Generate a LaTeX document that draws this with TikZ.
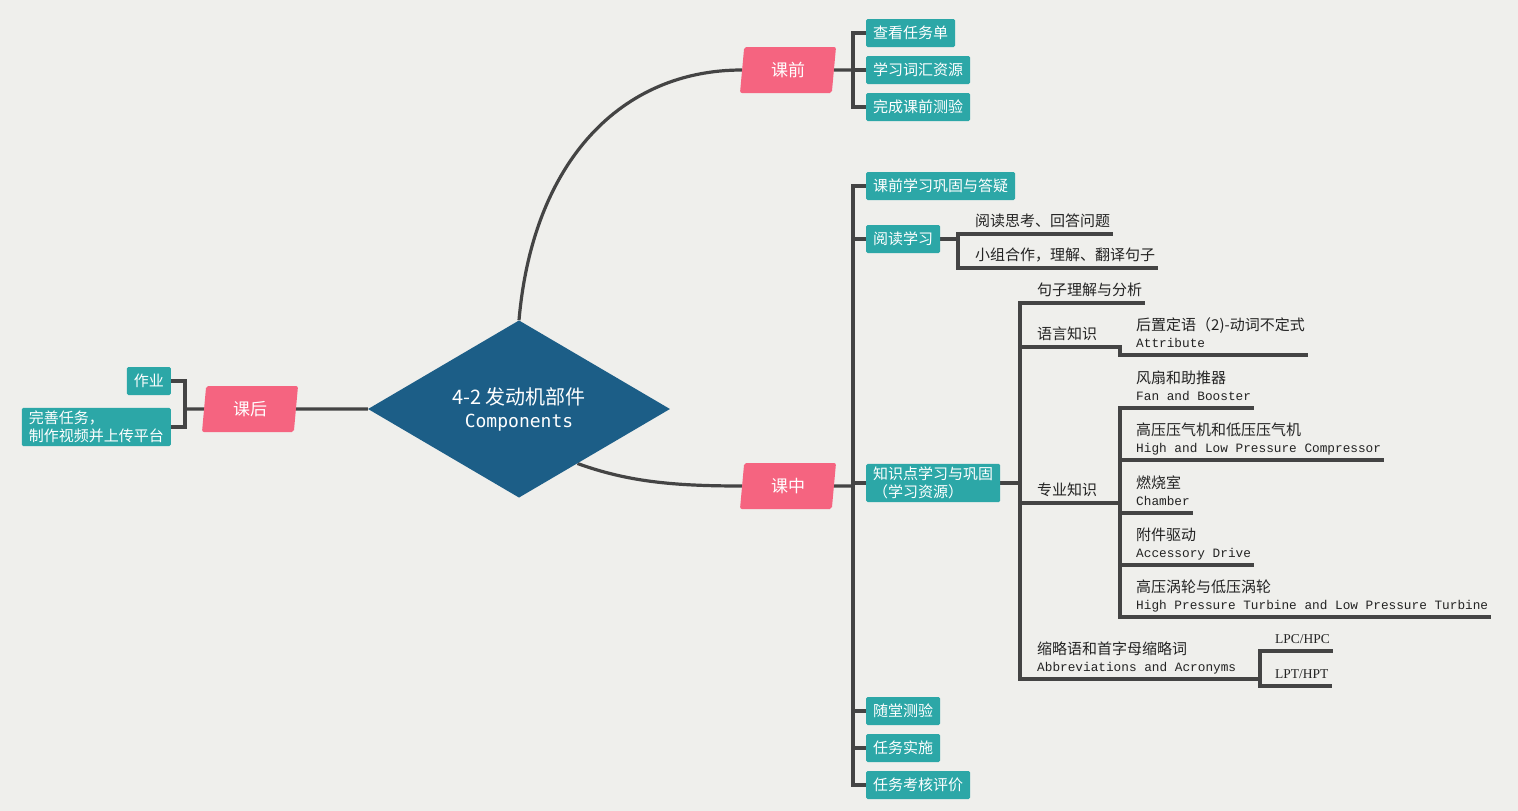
\documentclass[tikz,border=0pt]{standalone}
\usepackage{fontspec}
\setmainfont{Noto Sans CJK SC}
\newfontfamily\enfont{Liberation Mono}[Scale=0.85]
\newfontfamily\serfont{Liberation Serif}[Scale=0.9]
\newfontfamily\compfont{DejaVu Sans Mono}
\usepackage{tikz}
\usetikzlibrary{shapes.geometric}
\definecolor{bgcol}{RGB}{239,239,236}
\definecolor{pinkc}{RGB}{245,100,128}
\definecolor{tealc}{RGB}{44,167,167}
\definecolor{navyc}{RGB}{28,94,135}
\definecolor{linec}{RGB}{68,68,68}
\definecolor{inkc}{RGB}{35,35,35}
\pgfdeclarelayer{bg}
\pgfdeclarelayer{lines}
\pgfsetlayers{bg,lines,main}

\begin{document}
\begin{tikzpicture}[x=1pt, y=-1pt,
    link/.style={draw=linec, line width=3.2pt},
    rootbox/.style={diamond, fill=navyc, text=white, minimum width=302pt, minimum height=174pt,
      inner sep=0pt, align=center, font=\fontsize{20}{23}\selectfont},
    pinkbox/.style={trapezium, trapezium left angle=75, trapezium right angle=105,
      trapezium stretches body, fill=pinkc, text=white, minimum width=96pt, minimum height=46pt,
      inner sep=0pt, rounded corners=2pt, font=\fontsize{17}{20}\selectfont},
    tealbox/.style={rectangle, fill=tealc, text=white, rounded corners=1.5pt, inner xsep=7pt,
      minimum height=28pt, align=left, font=\fontsize{15}{17.5}\selectfont},
    leaf/.style={anchor=south west, inner xsep=3pt, inner ysep=4.5pt, text depth=3pt,
      text=inkc, align=left, font=\fontsize{15}{16.5}\selectfont}]
  \useasboundingbox (0,0) rectangle (1518,811);
  \begin{pgfonlayer}{bg}
    \fill[bgcol] (0,0) rectangle (1518,811);
  \end{pgfonlayer}

  % centre and the three stages
  \node[rootbox] (root) at (519,409) {4-2 发动机部件\\{\compfont\fontsize{18}{23}\selectfont Components}};
  \node[pinkbox] (pre) at (788,70) {课前};
  \node[pinkbox] (mid) at (788,486) {课中};
  \node[pinkbox] (post) at (250,409) {课后};

  % after class
  \node[tealbox, anchor=east] (hw) at (171,381) {作业};
  \node[tealbox, anchor=east] (todo) at (171,427) {完善任务，\\制作视频并上传平台};
  \coordinate (postJ) at (185,409);

  % before class
  \node[tealbox, anchor=west] (pa) at (866,33) {查看任务单};
  \node[tealbox, anchor=west] (pb) at (866,70) {学习词汇资源};
  \node[tealbox, anchor=west] (pc) at (866,107) {完成课前测验};
  \coordinate (preJ) at (853,70);

  % in class
  \node[tealbox, anchor=west] (ma) at (866,186) {课前学习巩固与答疑};
  \node[tealbox, anchor=west] (read) at (866,239) {阅读学习};
  \node[tealbox, anchor=west] (know) at (866,483) {知识点学习与巩固\\（学习资源）};
  \node[tealbox, anchor=west] (quiz) at (866,711) {随堂测验};
  \node[tealbox, anchor=west] (task) at (866,748) {任务实施};
  \node[tealbox, anchor=west] (eval) at (866,785) {任务考核评价};
  \coordinate (midJ) at (853,486);

  % reading
  \node[leaf] (r1) at (972,234) {阅读思考、回答问题};
  \node[leaf] (r2) at (972,268) {小组合作，理解、翻译句子};
  \coordinate (readJ) at (958,239);

  % knowledge points
  \node[leaf] (k1) at (1034,303) {句子理解与分析};
  \node[leaf] (k2) at (1034,347) {语言知识};
  \node[leaf] (k3) at (1034,503) {专业知识};
  \node[leaf] (k4) at (1034,679) {缩略语和首字母缩略词\\{\enfont Abbreviations and Acronyms}};
  \coordinate (knowJ) at (1020,483);
  \coordinate (langJ) at (1120,347);
  \coordinate (profJ) at (1120,503);
  \coordinate (abbrJ) at (1260,679);

  \node[leaf] (attr) at (1133,355) {后置定语（2)-动词不定式\\{\enfont Attribute}};
  \node[leaf] (f1) at (1133,408) {风扇和助推器\\{\enfont Fan and Booster}};
  \node[leaf] (f2) at (1133,460) {高压压气机和低压压气机\\{\enfont High and Low Pressure Compressor}};
  \node[leaf] (f3) at (1133,513) {燃烧室\\{\enfont Chamber}};
  \node[leaf] (f4) at (1133,565) {附件驱动\\{\enfont Accessory Drive}};
  \node[leaf] (f5) at (1133,617) {高压涡轮与低压涡轮\\{\enfont High Pressure Turbine and Low Pressure Turbine}};
  \node[leaf] (a1) at (1272,651) {\serfont LPC/HPC};
  \node[leaf] (a2) at (1272,686) {\serfont LPT/HPT};

  \begin{pgfonlayer}{lines}
    \draw[link] (post.east) -- (root.west);
    \draw[link] (root.north) .. controls +(14,-160) and +(-120,0) .. (pre.west);
    \draw[link] (root.-43) .. controls +(50,18) and +(-70,0) .. (mid.west);
    \draw[link] (post.west) -- (postJ);
    \foreach \n in {hw,todo} \draw[link] (postJ) |- (\n.east);
    \draw[link] (pre.east) -- (preJ);
    \foreach \n in {pa,pb,pc} \draw[link] (preJ) |- (\n.west);
    \draw[link] (mid.east) -- (midJ);
    \foreach \n in {ma,read,know,quiz,task,eval} \draw[link] (midJ) |- (\n.west);
    \draw[link] (read.east) -- (readJ);
    \foreach \n in {r1,r2} \draw[link] (readJ) |- (\n.south east);
    \draw[link] (know.east) -- (knowJ);
    \draw[link] (knowJ) |- (k1.south east);
    \draw[link] (knowJ) |- (langJ) |- (attr.south east);
    \draw[link] (knowJ) |- (profJ);
    \foreach \n in {f1,f2,f3,f4,f5} \draw[link] (profJ) |- (\n.south east);
    \draw[link] (knowJ) |- (abbrJ);
    \foreach \n in {a1,a2} \draw[link] (abbrJ) |- (\n.south east);
  \end{pgfonlayer}
\end{tikzpicture}
\end{document}
